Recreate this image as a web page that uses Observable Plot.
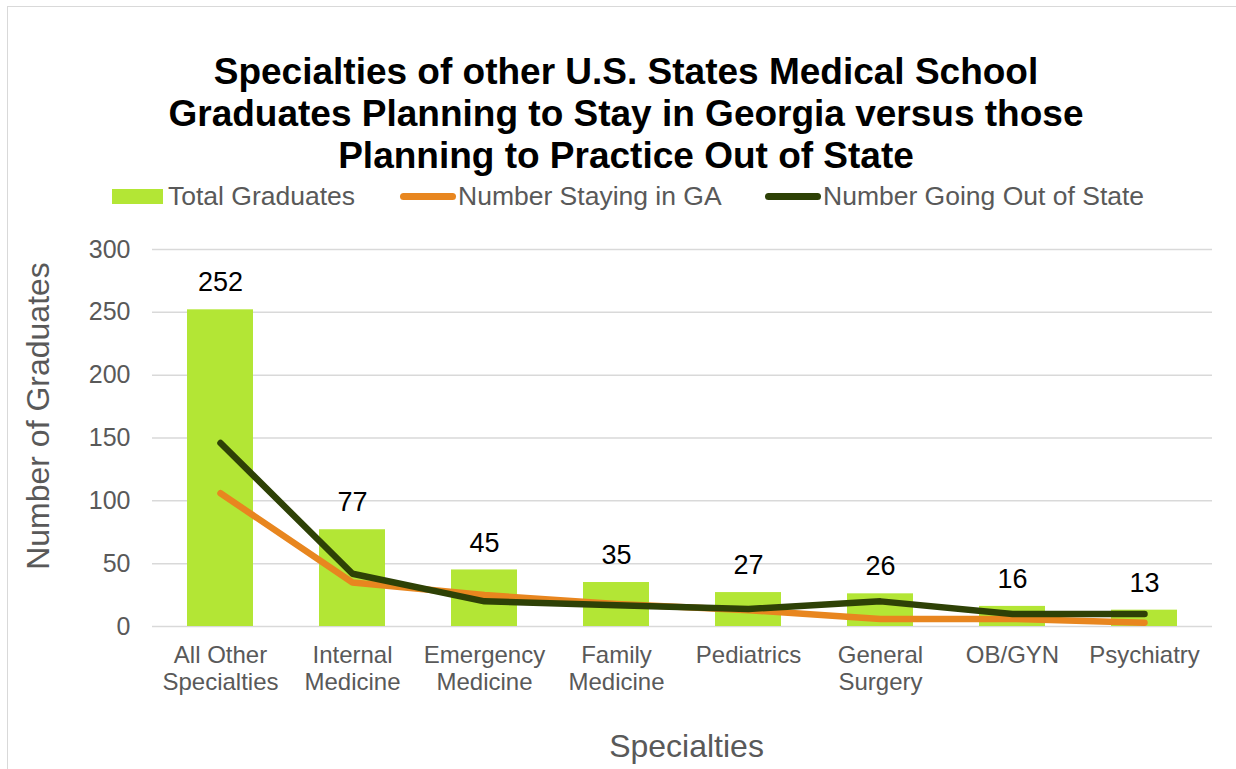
<!DOCTYPE html>
<html><head><meta charset="utf-8">
<script src="https://cdn.jsdelivr.net/npm/d3@7"></script>
<script src="https://cdn.jsdelivr.net/npm/@observablehq/plot@0.6"></script>
<style>
body{margin:0;background:#fff;font-family:"Liberation Sans",Arial,sans-serif;}
#wrap{position:relative;width:1236px;height:769px;overflow:hidden;}
#frame{position:absolute;left:7px;top:6px;width:1240px;height:800px;border:1px solid #d9d9d9;}
#title{position:absolute;left:0;width:1252px;top:51px;text-align:center;font-weight:bold;font-size:37px;line-height:42px;color:#000;}
.leg{position:absolute;top:181px;font-size:26.5px;color:#595959;white-space:nowrap;}
.sw{position:absolute;}
#chart{position:absolute;left:0;top:0;}
</style></head><body>
<div id="wrap">
<div id="frame"></div>
<div id="chart"></div>
<div id="title">Specialties of other U.S. States Medical School<br>Graduates Planning to Stay in Georgia versus those<br>Planning to Practice Out of State</div>
<div class="sw" style="left:112px;top:189px;width:51px;height:15px;background:#b3e635"></div>
<div class="leg" style="left:168px">Total Graduates</div>
<div class="sw" style="left:400px;top:193px;width:56px;height:7px;border-radius:4px;background:#e8861f"></div>
<div class="leg" style="left:458px">Number Staying in GA</div>
<div class="sw" style="left:765px;top:193px;width:56px;height:7px;border-radius:4px;background:#2e4106"></div>
<div class="leg" style="left:823px">Number Going Out of State</div>
</div>
<script>
const categories = ["All Other\nSpecialties","Internal\nMedicine","Emergency\nMedicine","Family\nMedicine","Pediatrics","General\nSurgery","OB/GYN","Psychiatry"];
const totalGraduates = [252,77,45,35,27,26,16,13];
const stayingInGA = [106,35,25,18,13,6,6,3];
const goingOutOfState = [146,42,20,17,14,20,10,10];
const yTicks = [0,50,100,150,200,250,300];

const rows = categories.map((c,i)=>({cat:c,total:totalGraduates[i],stay:stayingInGA[i],out:goingOutOfState[i]}));

const chart = Plot.plot({
  width:1236, height:769,
  marginTop:249, marginBottom:143, marginLeft:152, marginRight:24,
  style:{fontFamily:"Liberation Sans, Arial, sans-serif", background:"transparent"},
  x:{domain:categories, paddingInner:0.5, paddingOuter:0.25, label:null},
  y:{domain:[0,300], ticks:yTicks, label:null},
  marks:[
    Plot.gridY(yTicks,{stroke:"#d9d9d9", strokeOpacity:1, strokeWidth:1.5}),
    Plot.barY(rows,{x:"cat", y:"total", fill:"#b3e635"}),
    Plot.text(rows,{x:"cat", y:"total", text:d=>String(d.total), dy:-27, fontSize:27, fill:"#000"}),
    Plot.line(rows,{x:"cat", y:"stay", stroke:"#e8861f", strokeWidth:6.5, strokeLinecap:"round", strokeLinejoin:"round"}),
    Plot.line(rows,{x:"cat", y:"out", stroke:"#2e4106", strokeWidth:6.5, strokeLinecap:"round", strokeLinejoin:"round"}),
    Plot.axisX({tickSize:0, tickPadding:17, fontSize:24, fill:"#595959", lineHeight:1.13, label:null}),
    Plot.axisY(yTicks,{tickSize:0, tickPadding:22, fontSize:25, fill:"#595959", label:null}),
    Plot.text(["Number of Graduates"],{frameAnchor:"left", dx:-114, dy:-22, rotate:-90, textAnchor:"middle", fontSize:32, fill:"#595959"}),
    Plot.text(["Specialties"],{frameAnchor:"bottom", dy:130, dx:4, fontSize:32, fill:"#595959"})
  ]
});
document.getElementById("chart").appendChild(chart);
</script>
</body></html>
